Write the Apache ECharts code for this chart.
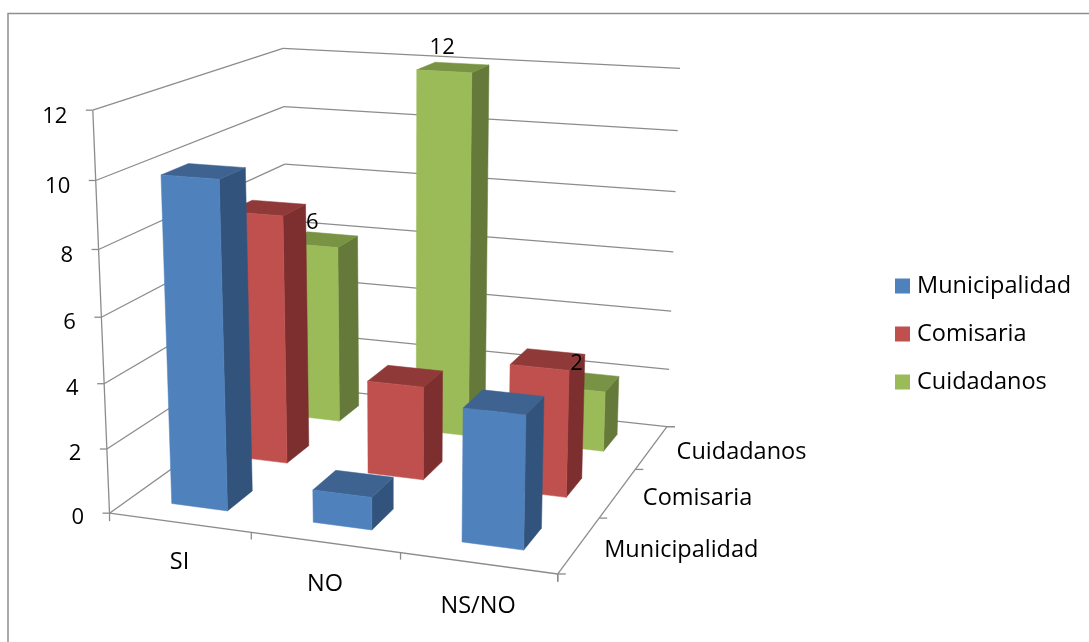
<!DOCTYPE html>
<html><head><meta charset="utf-8">
<style>html,body{margin:0;padding:0;background:#fff}#c{width:1089px;height:642px}</style>
<script src="https://cdn.jsdelivr.net/npm/echarts@6/dist/echarts.min.js"></script>
</head><body><div id="c"></div>
<script>
// ---------- data ----------
const categories = ['SI', 'NO', 'NS/NO'];
const depthNames = ['Municipalidad', 'Comisaria', 'Cuidadanos'];
const municipalidad = [10, 1, 4];
const comisaria = [8, 3, 4];
const cuidadanos = [6, 12, 2];
const yTicks = [0, 2, 4, 6, 8, 10, 12];

// ---------- camera: fitted at load from where the plot box's edges sit in the picture ----------
const FONT = '"Open Sans"';
const anchors = [
  [0,0,0,109,513],[0,0,2,107,449],[0,0,4,103.5,383.5],[0,0,6,101,317],[0,0,8,99.7,250],[0,0,10,96,181],[0,0,12,93,110],
  [3,3,0,666,427],[3,3,2,669,370],[3,3,4,671,311],[3,3,6,673,252],[3,3,8,675.5,192],[3,3,10,678,130.5],[3,3,12,680,68],
  [0,3,12,283,48],[0,3,10,283.5,107],[0,3,8,284.5,164],[0,3,0,289.5,385],
  [3,0,0,557,573],[1,0,0,251,533],[2,0,0,400,553],[3,1,0,601,518],[3,2,0,636,469]
];
function fitCamera(pts) {
  const n = 11, A = Array.from({length:n}, () => new Array(n + 1).fill(0));
  const add = (r, b) => { for (let i = 0; i < n; i++) { for (let j = 0; j < n; j++) A[i][j] += r[i] * r[j]; A[i][n] += r[i] * b; } };
  pts.forEach(([x,y,z,u,v]) => {
    add([x,y,z,1,0,0,0,0,-u*x,-u*y,-u*z], u);
    add([0,0,0,0,x,y,z,1,-v*x,-v*y,-v*z], v);
  });
  for (let i = 0; i < n; i++) {
    let m = i;
    for (let r = i + 1; r < n; r++) if (Math.abs(A[r][i]) > Math.abs(A[m][i])) m = r;
    [A[i], A[m]] = [A[m], A[i]];
    for (let r = 0; r < n; r++) if (r !== i) {
      const f = A[r][i] / A[i][i];
      for (let c = i; c <= n; c++) A[r][c] -= f * A[i][c];
    }
  }
  return A.map((row, i) => row[n] / row[i]);
}
const cam = fitCamera(anchors);
function P(x, y, z) {
  const w = cam[8]*x + cam[9]*y + cam[10]*z + 1;
  return [(cam[0]*x + cam[1]*y + cam[2]*z + cam[3]) / w, (cam[4]*x + cam[5]*y + cam[6]*z + cam[7]) / w];
}

// ---------- styling ----------
const GRID = '#8c8c8c';
const palette = {
  Municipalidad: {front:'#4F81BD', top:'#3E6391', side:'#32547C'},
  Comisaria:     {front:'#C0504D', top:'#8F3A38', side:'#7C2F2E'},
  Cuidadanos:    {front:'#9BBB59', top:'#779343', side:'#657A3A'}
};
const BAR_W = 0.4, BAR_D = 0.4;
const LABEL_NUDGE = [[-10,-17],[-11,-20],[-8,-18]];

function line(a, b, w) {
  return {type:'line', shape:{x1:a[0],y1:a[1],x2:b[0],y2:b[1]}, style:{stroke:GRID, lineWidth:w||1.3}, silent:true};
}
function txt(x, y, s, align, size) {
  return {type:'text', style:{x, y, text:String(s), fill:'#000', font:(size||22)+'px ' + FONT, textAlign:align||'center', textVerticalAlign:'middle'}, silent:true};
}
function poly(pts, fill, z2) {
  return {type:'polygon', z2, shape:{points:pts}, style:{fill, stroke:fill, lineWidth:0.5}, silent:true};
}
// reads a datum through the hidden axes' scales, returns plot-box coordinates
function toBox(api, params) {
  const cs = params.coordSys;
  const p = api.coord([api.value(0), api.value(1)]);
  return {u: (p[0]-cs.x)/cs.width*categories.length, h: (cs.y+cs.height-p[1])/cs.height*12};
}

function barSeries(name, depthIndex, values, z) {
  const col = palette[name];
  return {
    name, type:'custom', coordinateSystem:'cartesian2d', z, silent:true, itemStyle:{color:col.front},
    data: values.map((v,i) => [i, v]),
    renderItem(params, api) {
      const {u, h} = toBox(api, params);
      const x0=u-BAR_W/2, x1=u+BAR_W/2, y0=depthIndex+0.5-BAR_D/2, y1=depthIndex+0.5+BAR_D/2;
      const z2 = 10 - params.dataIndex;
      return {type:'group', children:[
        poly([P(x1,y0,0),P(x1,y1,0),P(x1,y1,h),P(x1,y0,h)], col.side, z2),
        poly([P(x0,y0,h),P(x1,y0,h),P(x1,y1,h),P(x0,y1,h)], col.top, z2),
        poly([P(x0,y0,0),P(x1,y0,0),P(x1,y0,h),P(x0,y0,h)], col.front, z2)
      ]};
    }
  };
}

const wallSeries = {
  name:'walls', type:'custom', coordinateSystem:'cartesian2d', z:1, silent:true,
  data: yTicks.map(v => [0, v]),
  renderItem(params, api) {
    const {h} = toBox(api, params);
    const a=P(0,0,h), b=P(0,3,h), c=P(3,3,h);
    const kids=[line(a,b), line(b,c), line([a[0]-7,a[1]],a), txt(a[0]-25.5,a[1]+4.5+h/6,api.value(1),'right')];
    if (params.dataIndex===0) {
      const o=P(0,0,0), r=P(3,0,0), k=P(3,3,0);
      kids.push(line(o,P(0,0,12)), line(o,r), line(r,k), line(o,[o[0],o[1]+8]),
                line(r,[r[0],r[1]+8]), line(r,[r[0]+8,r[1]]), line(k,[k[0]+8,k[1]]));
    }
    return {type:'group', children:kids};
  }
};
const catSeries = {
  name:'catAxis', type:'custom', coordinateSystem:'cartesian2d', z:2, silent:true,
  data: categories.map((c,i) => [i, 0]),
  renderItem(params, api) {
    const i=params.dataIndex, a=P(i+1,0,0), m=P(i+0.5,0,0);
    return {type:'group', children:[line(a,[a[0],a[1]+7]), txt(m[0],m[1]+40+1.5*i,categories[i],'center',23.5)]};
  }
};
const depthSeries = {
  name:'depthAxis', type:'custom', coordinateSystem:'cartesian2d', z:2, silent:true,
  data: depthNames.map((c,i) => [0, 0]),
  renderItem(params, api) {
    const i=params.dataIndex, a=P(3,i+1,0), m=P(3,i+0.5,0);
    return {type:'group', children:[line(a,[a[0]+8,a[1]]), txt(m[0]+25,m[1]+5,depthNames[i],'left',23.5)]};
  }
};
const labelSeries = {
  name:'valueLabels', type:'custom', coordinateSystem:'cartesian2d', z:10, silent:true,
  data: cuidadanos.map((v,i) => [i, v]),
  renderItem(params, api) {
    const {u,h} = toBox(api, params);
    const t = P(u, 2.5, h), n = LABEL_NUDGE[params.dataIndex];
    return txt(t[0]+n[0], t[1]+n[1], api.value(1));
  }
};

const chart = echarts.init(document.getElementById('c'));
chart.setOption({
  animation:false,
  backgroundColor:'#fff',
  graphic:[{type:'rect', z:0, shape:{x:8,y:13.5,width:1200,height:800}, style:{fill:'none',stroke:'#8e8e8e',lineWidth:1.5}, silent:true}],
  grid:{left:0, top:0, width:300, height:120, show:false},
  xAxis:{type:'category', data:categories, show:false},
  yAxis:{type:'value', min:0, max:12, interval:2, show:false},
  legend:{
    orient:'vertical', left:890, top:269, itemWidth:15, itemHeight:15, itemGap:24, icon:'rect', selectedMode:false,
    data:depthNames,
    textStyle:{fontFamily:'Open Sans', fontSize:23.5, color:'#000', padding:[0,0,0,2]}
  },
  series:[
    wallSeries, catSeries, depthSeries,
    barSeries('Cuidadanos',2,cuidadanos,3),
    barSeries('Comisaria',1,comisaria,4),
    barSeries('Municipalidad',0,municipalidad,5),
    labelSeries
  ]
});
</script></body></html>
